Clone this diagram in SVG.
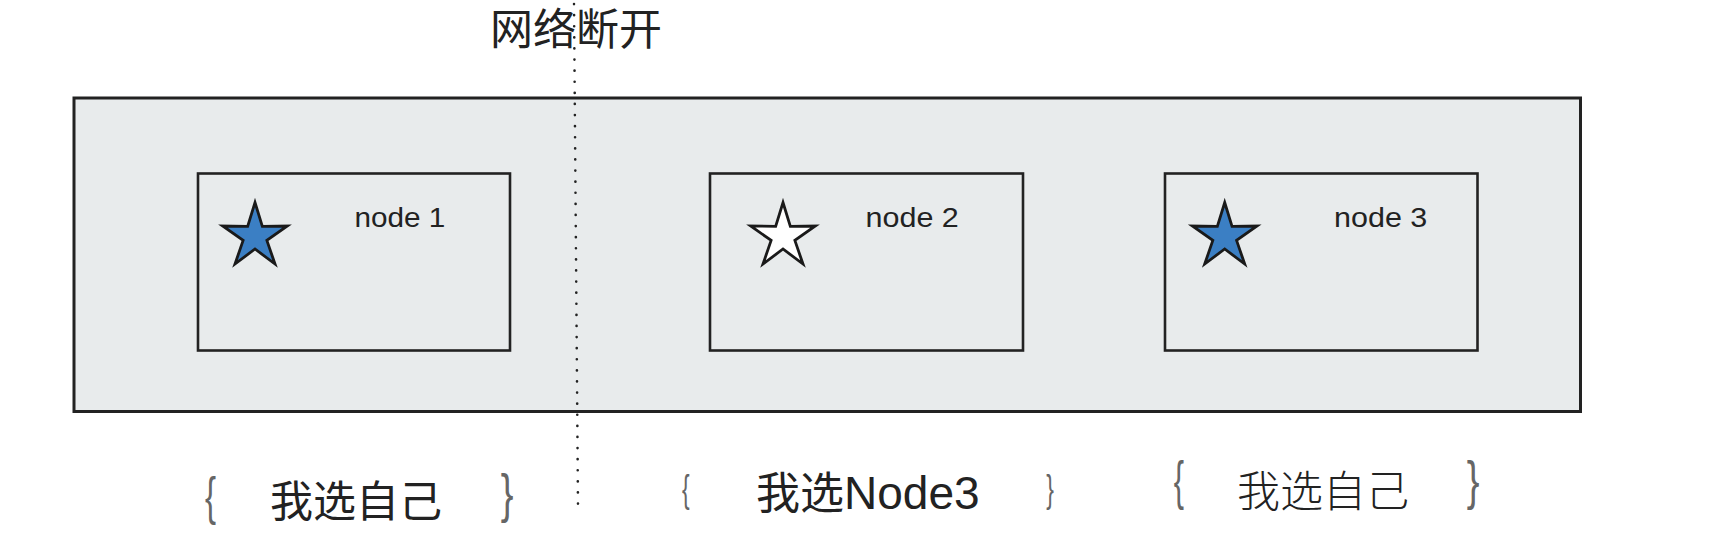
<svg xmlns="http://www.w3.org/2000/svg" xmlns:xlink="http://www.w3.org/1999/xlink" width="1710" height="554" viewBox="0 0 1710 554">
  <style>
    .cluster { fill: #e8ebec; stroke: #222; stroke-width: 3; }
    .node { fill: none; stroke: #222; stroke-width: 2.6; }
    .star { stroke: #1a1a1a; stroke-width: 2.8; stroke-linejoin: miter; }
    .leader { fill: #3b7fc4; }
    .follower { fill: #ffffff; }
    .nlabel { font-family: "Liberation Sans", Arial, sans-serif; font-size: 27px; fill: #222; }
    .cjk { font-family: "Noto Sans CJK SC", "Liberation Sans", sans-serif; fill: #222; }
    .brace { font-family: "Liberation Sans", Arial, sans-serif; fill: #666; }
    .partition { fill: none; stroke: #222; stroke-width: 2.6; stroke-dasharray: 0.1 11; stroke-linecap: round; }
  </style>
  <defs>
    <polygon id="star" points="0,-34 7.34,-10.1 32.34,-10.51 11.87,3.86 19.98,27.5 0,12.5 -19.98,27.5 -11.87,3.86 -32.34,-10.51 -7.34,-10.1"/>
  </defs>

  <rect x="0" y="0" width="1710" height="554" fill="#ffffff"/>

  <g id="cluster">
    <rect class="cluster" x="74" y="98" width="1506.5" height="313.5"/>
  </g>

  <g id="node1">
    <rect class="node" x="198" y="173.5" width="312" height="177"/>
    <use xlink:href="#star" href="#star" class="star leader" transform="translate(255,236.5)"/>
    <text class="nlabel" transform="translate(354.5,227.3) scale(1.1,1)">node 1</text>
  </g>

  <g id="node2">
    <rect class="node" x="710" y="173.5" width="313" height="177"/>
    <use xlink:href="#star" href="#star" class="star follower" transform="translate(783,236.5)"/>
    <text class="nlabel" transform="translate(865.5,227.3) scale(1.13,1)">node 2</text>
  </g>

  <g id="node3">
    <rect class="node" x="1165" y="173.5" width="312.5" height="177"/>
    <use xlink:href="#star" href="#star" class="star leader" transform="translate(1224.7,236.5)"/>
    <text class="nlabel" transform="translate(1334,227.3) scale(1.13,1)">node 3</text>
  </g>

  <g id="connectors">
    <path class="partition" d="M574,4 L578,506"/>
  </g>

  <g id="title">
    <text class="cjk" x="490" y="45" font-size="43">网络断开</text>
  </g>

  <g id="vote1">
    <text class="brace" font-size="51" transform="translate(205,514) scale(0.65,1)">{</text>
    <text class="cjk" x="270" y="517" font-size="43">我选自己</text>
    <text class="brace" font-size="53" transform="translate(500.7,512) scale(0.72,1)">}</text>
  </g>

  <g id="vote2">
    <text class="brace" font-size="39.4" transform="translate(682.1,501.7) scale(0.58,1)">{</text>
    <text class="cjk" x="756" y="509" font-size="44">我选<tspan font-family="Liberation Sans, Arial, sans-serif" font-size="46">Node3</tspan></text>
    <text class="brace" font-size="39.4" transform="translate(1046.2,501.7) scale(0.58,1)">}</text>
  </g>

  <g id="vote3">
    <text class="brace" font-size="53" transform="translate(1173.8,499) scale(0.58,1)">{</text>
    <text class="cjk" x="1237" y="507" font-size="43" font-weight="300" fill="#333">我选自己</text>
    <text class="brace" font-size="53" transform="translate(1466.7,499) scale(0.72,1)">}</text>
  </g>
</svg>
